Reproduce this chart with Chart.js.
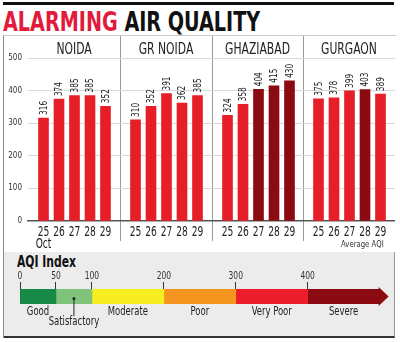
<!DOCTYPE html>
<html>
<head>
<meta charset="utf-8">
<script src="https://cdn.jsdelivr.net/npm/chart.js@4.4.1/dist/chart.umd.min.js"></script>
<style>
  body { margin:0; width:400px; height:342px; background:#fff; position:relative; overflow:hidden;
         font-family:'DejaVu Sans Condensed','DejaVu Sans',sans-serif; }
  .abs { position:absolute; }
  .narrow { transform-origin:left top; white-space:nowrap; }
  #rule { left:3px; top:2px; width:391px; height:3px; background:#111; }
  #title { left:3px; top:9px; font-size:26px; line-height:26px; font-weight:bold; color:#111; transform:scaleX(0.82); }
  #title span { color:#e21b3c; }
  #frame { left:3px; top:35px; width:392px; height:302px; border-left:1px solid #888; border-top:1px solid #ccc; }
  .sep { top:36px; width:1px; height:205px; background:#9a9a9a; }
  #avg { left:341px; top:238px; font-size:9.5px; color:#333; transform:scaleX(0.81); }
  #aqibox { left:4px; top:252px; width:390px; height:84px; background:#ececec;
            border-right:1px solid #999; border-bottom:2px solid #333; }
  #aqititle { left:17px; top:253px; font-size:15px; font-weight:bold; color:#111; transform:scaleX(0.8); }
  canvas { position:absolute; }
</style>
</head>
<body>
<div id="rule" class="abs"></div>
<div id="title" class="abs narrow"><span>ALARMING</span> AIR QUALITY</div>
<div id="frame" class="abs"></div>
<div id="aqibox" class="abs"></div>
<div id="aqititle" class="abs narrow">AQI Index</div>
<div class="abs sep" style="left:120px"></div>
<div class="abs sep" style="left:212px"></div>
<div class="abs sep" style="left:303px"></div>
<canvas id="p0" width="117" height="214" style="left:3px;top:36px"></canvas>
<canvas id="p1" width="92" height="214" style="left:120px;top:36px"></canvas>
<canvas id="p2" width="91" height="214" style="left:212px;top:36px"></canvas>
<canvas id="p3" width="92" height="214" style="left:303px;top:36px"></canvas>
<div id="avg" class="abs narrow">Average AQI</div>
<canvas id="aqi" width="393" height="85" style="left:3px;top:253px"></canvas>
<script>
// daily average AQI, 25-29 Oct
const days = [25, 26, 27, 28, 29];
const cities = ['NOIDA', 'GR NOIDA', 'GHAZIABAD', 'GURGAON'];
const noida = [316, 374, 385, 385, 352];
const grNoida = [310, 352, 391, 362, 385];
const ghaziabad = [324, 358, 404, 415, 430];
const gurgaon = [375, 378, 399, 403, 389];
const yTicks = [0, 100, 200, 300, 400, 500];

// AQI index scale
const aqiBreaks = [0, 50, 100, 200, 300, 400, 500];
const aqiBands = ['Good', 'Satisfactory', 'Moderate', 'Poor', 'Very Poor', 'Severe'];
const aqiTicks = [0, 50, 100, 200, 300, 400];

const FONT = "'DejaVu Sans Condensed','DejaVu Sans',sans-serif";
const RED = '#e61e28';
const DARK = '#8c0a12';
const bandColors = ['#178a48', '#80c47c', '#f7ee21', '#f4951f', '#ec1e2b', '#8c0a12'];

const cityValues = [noida, grNoida, ghaziabad, gurgaon];
const PX_PER_DAY = 15.5;

// squeeze text horizontally (no narrow face installed)
function narrowText(ctx, text, x, y, sx) {
  ctx.save();
  ctx.translate(x, y);
  ctx.scale(sx, 1);
  ctx.fillText(text, 0, 0);
  ctx.restore();
}

const barLabels = {
  id: 'barLabels',
  afterDatasetsDraw(chart) {
    const ctx = chart.ctx;
    const a = chart.chartArea;
    const xs = chart.scales.x;
    const meta = chart.getDatasetMeta(0);
    const vals = chart.data.datasets[0].data;
    const opts = chart.options.plugins.barLabels;
    ctx.save();
    ctx.fillStyle = '#222';
    // values, rotated above each bar
    ctx.font = '10px ' + FONT;
    ctx.textAlign = 'left';
    ctx.textBaseline = 'middle';
    meta.data.forEach((bar, i) => {
      ctx.save();
      ctx.translate(bar.x, bar.y - 3);
      ctx.rotate(-Math.PI / 2);
      ctx.scale(0.82, 1);
      ctx.fillText(String(vals[i].y), 0, 0.5);
      ctx.restore();
    });
    // day labels
    ctx.font = '13.5px ' + FONT;
    ctx.textAlign = 'center';
    xs.ticks.forEach((t, i) => {
      const x = xs.getPixelForValue(t.value);
      narrowText(ctx, String(t.value), x, a.bottom + 11, 0.75);
      if (opts.month && i === 0) narrowText(ctx, opts.month, x, a.bottom + 23, 0.75);
    });
    // city header
    ctx.font = '15px ' + FONT;
    narrowText(ctx, opts.title, (a.left + a.right) / 2, 14, 0.8);
    ctx.restore();
  }
};

cityValues.forEach((vals, p) => {
  const canvas = document.getElementById('p' + p);
  const axisW = p === 0 ? 25 : 0;
  const areaW = canvas.width - axisW;
  new Chart(canvas, {
    type: 'bar',
    data: {
      datasets: [{
        data: days.map((d, i) => ({ x: d, y: vals[i] })),
        backgroundColor: vals.map(v => v > 400 ? DARK : RED),
        barThickness: 10
      }]
    },
    options: {
      responsive: false,
      animation: false,
      layout: { padding: { top: 22, left: 0, right: 0, bottom: 0 } },
      plugins: {
        legend: { display: false },
        tooltip: { enabled: false },
        barLabels: { title: cities[p], month: p === 0 ? 'Oct' : '' }
      },
      scales: {
        x: {
          type: 'linear',
          offset: false,
          min: 24,
          max: 24 + areaW / PX_PER_DAY,
          afterBuildTicks: s => { s.ticks = days.map(d => ({ value: d })); },
          afterFit: s => { s.height = 29; },
          ticks: { display: false },
          grid: { display: true, drawOnChartArea: false, drawTicks: false },
          border: { color: '#555', width: 1.5 }
        },
        y: {
          min: 0,
          max: 500,
          afterBuildTicks: s => { s.ticks = yTicks.map(v => ({ value: v })); },
          afterFit: s => { s.width = axisW; },
          ticks: { display: p === 0, padding: 6, color: '#333', font: { family: FONT, size: 8 } },
          grid: { drawTicks: false, color: c => c.tick && c.tick.value === 0 ? 'rgba(0,0,0,0)' : '#d9d9d9' },
          border: { display: false }
        }
      }
    },
    plugins: [barLabels]
  });
});

// AQI index strip
const aqiDecor = {
  id: 'aqiDecor',
  afterDatasetsDraw(chart) {
    const ctx = chart.ctx;
    const a = chart.chartArea;
    const xs = chart.scales.x;
    const last = chart.getDatasetMeta(aqiBands.length - 1).data[0];
    ctx.save();
    // arrow head on the last band
    ctx.fillStyle = bandColors[bandColors.length - 1];
    ctx.beginPath();
    ctx.moveTo(last.x - 1, a.top - 2);
    ctx.lineTo(last.x + 9, (a.top + a.bottom) / 2);
    ctx.lineTo(last.x - 1, a.bottom + 2);
    ctx.closePath();
    ctx.fill();
    // tick values
    ctx.fillStyle = '#333';
    ctx.font = '10.5px ' + FONT;
    ctx.textAlign = 'center';
    ctx.textBaseline = 'middle';
    xs.ticks.forEach(t => {
      narrowText(ctx, String(t.value), xs.getPixelForValue(t.value), a.top - 13, 0.8);
    });
    // band names
    ctx.font = '11.5px ' + FONT;
    ctx.fillStyle = '#222';
    aqiBands.forEach((name, i) => {
      const x = xs.getPixelForValue((aqiBreaks[i] + aqiBreaks[i + 1]) / 2);
      if (i === 1) {
        const cy = (a.top + a.bottom) / 2 + 2;
        ctx.strokeStyle = '#222';
        ctx.lineWidth = 1;
        ctx.beginPath();
        ctx.moveTo(x, cy);
        ctx.lineTo(x, a.bottom + 12);
        ctx.stroke();
        ctx.beginPath();
        ctx.arc(x, cy, 1.5, 0, Math.PI * 2);
        ctx.fill();
        narrowText(ctx, name, x, a.bottom + 18, 0.82);
      } else {
        narrowText(ctx, name, x, a.bottom + 8, 0.82);
      }
    });
    ctx.restore();
  }
};

new Chart(document.getElementById('aqi'), {
  type: 'bar',
  data: {
    labels: ['AQI'],
    datasets: aqiBands.map((name, i) => ({
      label: name,
      data: [[aqiBreaks[i], aqiBreaks[i + 1]]],
      backgroundColor: bandColors[i],
      grouped: false,
      barPercentage: 1,
      categoryPercentage: 1
    }))
  },
  options: {
    indexAxis: 'y',
    responsive: false,
    animation: false,
    layout: { padding: { left: 17, right: 2, top: 14, bottom: 34 } },
    plugins: { legend: { display: false }, tooltip: { enabled: false } },
    scales: {
      x: {
        type: 'linear',
        position: 'top',
        offset: false,
        min: 0,
        max: 520,
        afterBuildTicks: s => { s.ticks = aqiTicks.map(v => ({ value: v })); },
        afterFit: s => { s.height = 22; },
        ticks: { display: false },
        grid: { color: '#333', lineWidth: 1, tickLength: 7 },
        border: { display: false }
      },
      y: { display: false }
    }
  },
  plugins: [aqiDecor]
});
</script>
</body>
</html>
